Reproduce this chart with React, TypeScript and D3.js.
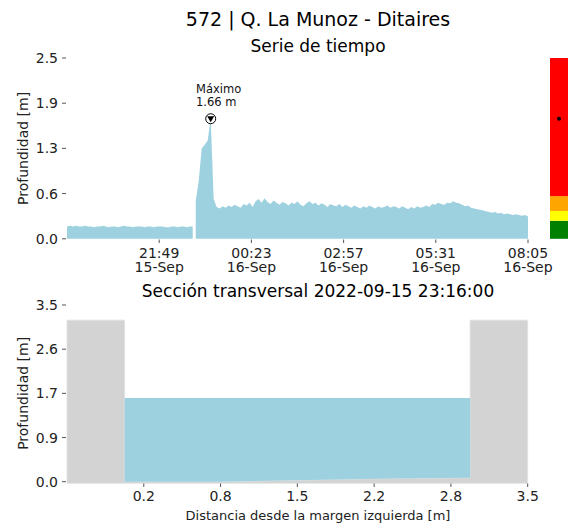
import React from 'react';
import * as d3 from 'd3';

const TITLE = '572 | Q. La Munoz - Ditaires';
const TOP_SUBTITLE = 'Serie de tiempo';
const BOTTOM_SUBTITLE = 'Sección transversal 2022-09-15 23:16:00';
const Y_LABEL = 'Profundidad [m]';
const X_LABEL_SECTION = 'Distancia desde la margen izquierda [m]';

const START = new Date(2022, 8, 15, 19, 15);
const END = new Date(2022, 8, 16, 8, 5);
const STEP_MIN = 5;
const GAP_INDEX = 43;

const depthSeries: number[] = [
  0.17, 0.18, 0.17, 0.18, 0.17, 0.17, 0.18, 0.17, 0.17, 0.16,
  0.17, 0.17, 0.18, 0.17, 0.16, 0.17, 0.17, 0.16, 0.17, 0.18,
  0.17, 0.17, 0.16, 0.17, 0.17, 0.17, 0.16, 0.17, 0.17, 0.16,
  0.17, 0.17, 0.17, 0.16, 0.16, 0.17, 0.17, 0.16, 0.17, 0.17,
  0.16, 0.17, 0.17,
  0.52, 0.80, 1.25, 1.30, 1.36, 1.66,
  0.55, 0.44, 0.42, 0.45, 0.43, 0.46, 0.44, 0.47, 0.45, 0.43, 0.48,
  0.46, 0.50, 0.44, 0.52, 0.55, 0.50, 0.56, 0.51, 0.48, 0.53,
  0.50, 0.47, 0.51, 0.49, 0.46, 0.50, 0.48, 0.52, 0.47, 0.45,
  0.49, 0.52, 0.48, 0.50, 0.46, 0.49, 0.47, 0.44, 0.48, 0.46,
  0.45, 0.48, 0.44, 0.47, 0.45, 0.43, 0.46, 0.44, 0.42, 0.45,
  0.43, 0.46, 0.44, 0.42, 0.45, 0.43, 0.44, 0.46, 0.43, 0.45,
  0.44, 0.42, 0.45, 0.43, 0.41, 0.44, 0.42, 0.45, 0.43, 0.44,
  0.46, 0.44, 0.48, 0.47, 0.50, 0.48, 0.47, 0.50, 0.49, 0.52,
  0.50, 0.49, 0.47, 0.45, 0.46, 0.43, 0.42, 0.41, 0.40, 0.39,
  0.38, 0.37, 0.36, 0.37, 0.35, 0.36, 0.34, 0.35, 0.34, 0.33,
  0.34, 0.33, 0.32, 0.33, 0.31,
];

const MAX_VALUE = 1.66;
const MAX_LABEL = ['Máximo', '1.66 m'];

const timeTickLabels: [string, string][] = [
  ['21:49', '15-Sep'],
  ['00:23', '16-Sep'],
  ['02:57', '16-Sep'],
  ['05:31', '16-Sep'],
  ['08:05', '16-Sep'],
];
const depthTickLabels = ['0.0', '0.6', '1.3', '1.9', '2.5'];
const DEPTH_MAX = 2.5;

const bandLimits = [0, 0.25, 0.385, 0.59, 2.5];
const bandColors = ['#008000', '#ffff00', '#ffa500', '#ff0000'];

const sectionX = [-0.5, 0, 0, 0.8, 1.5, 2.2, 3.0, 3.0, 3.5];
const sectionZ = [3.2, 3.2, 0, 0, 0.03, 0.06, 0.08, 3.2, 3.2];
const WATER_LEVEL = 1.66;
const sectionXTickLabels = ['0.2', '0.8', '1.5', '2.2', '2.8', '3.5'];
const sectionYTickLabels = ['0.0', '0.9', '1.7', '2.6', '3.5'];
const SECTION_X_MIN = -0.5;
const SECTION_X_MAX = 3.5;
const SECTION_Y_MAX = 3.5;

const FONT = 'DejaVu Sans, sans-serif';
const WATER = '#9ed1e0';
const GROUND = '#d3d3d3';
const TICK = '#555';

export default function App() {
  const W = 568, H = 527;
  const left = 67, right = 528;

  // ---------- Top: time series ----------
  const xT = d3.scaleTime().domain([START, END]).range([left, right]);
  const yT = d3.scaleLinear().domain([0, DEPTH_MAX]).range([238.8, 58]);
  const pts = depthSeries.map((v, i) => ({ t: new Date(START.getTime() + i * STEP_MIN * 60000), v }));
  const segs = [pts.slice(0, GAP_INDEX), pts.slice(GAP_INDEX)];
  const area = d3.area<{ t: Date; v: number }>()
    .x(d => xT(d.t))
    .y0(yT(0))
    .y1(d => yT(d.v));
  const maxPt = pts.reduce((a, b) => (b.v > a.v ? b : a));
  const timeTicks = d3.range(1, 6).map(k => new Date(START.getTime() + (k * (END.getTime() - START.getTime())) / 5));
  const depthTicks = d3.range(0, 5).map(k => (k * DEPTH_MAX) / 4);

  // ---------- Bottom: cross section ----------
  const xS = d3.scaleLinear().domain([SECTION_X_MIN, SECTION_X_MAX]).range([67, 527.7]);
  const yS = d3.scaleLinear().domain([0, SECTION_Y_MAX]).range([481.7, 305]);
  const ground = sectionX.map((x, i) => ({ x, z: sectionZ[i] }));
  const groundArea = d3.area<{ x: number; z: number }>()
    .x(d => xS(d.x))
    .y0(483.3)
    .y1(d => yS(d.z));
  const bed = ground.slice(2, 7);
  const waterArea = d3.area<{ x: number; z: number }>()
    .x(d => xS(d.x))
    .y0(d => yS(d.z))
    .y1(yS(WATER_LEVEL));
  const sxTicks = d3.range(1, 7).map(k => SECTION_X_MIN + (k * (SECTION_X_MAX - SECTION_X_MIN)) / 6);
  const syTicks = d3.range(0, 5).map(k => (k * SECTION_Y_MAX) / 4);

  const mx = xT(maxPt.t), my = yT(MAX_VALUE);

  return (
    <svg width={W} height={H} style={{ position: 'absolute', left: 0, top: 0, background: '#fff' }} fontFamily={FONT}>
      <text x={318} y={26} fontSize={19} textAnchor="middle" fill="#000">{TITLE}</text>
      <text x={318} y={52} fontSize={17} textAnchor="middle" fill="#000">{TOP_SUBTITLE}</text>

      {segs.map((s, i) => (
        <path key={i} d={area(s) || ''} fill={WATER} />
      ))}

      {/* y axis top */}
      {depthTicks.map((v, i) => (
        <g key={i}>
          <line x1={62} x2={66} y1={yT(v)} y2={yT(v)} stroke={TICK} />
          <text x={58} y={yT(v) + 5} fontSize={14} textAnchor="end" fill="#222">{depthTickLabels[i]}</text>
        </g>
      ))}
      <text transform={`translate(28,${(yT(0) + yT(DEPTH_MAX)) / 2}) rotate(-90)`} fontSize={14} textAnchor="middle" fill="#222">{Y_LABEL}</text>

      {/* x axis top */}
      {timeTicks.map((t, i) => (
        <g key={i}>
          <line x1={xT(t)} x2={xT(t)} y1={239.5} y2={243} stroke={TICK} />
          <text x={xT(t)} y={257.5} fontSize={14} textAnchor="middle" fill="#222">{timeTickLabels[i][0]}</text>
          <text x={xT(t)} y={272} fontSize={14} textAnchor="middle" fill="#222">{timeTickLabels[i][1]}</text>
        </g>
      ))}

      {/* max annotation */}
      <circle cx={mx} cy={my} r={5} fill="#fff" stroke="#000" strokeWidth={1} />
      <path d={`M${mx - 3.5},${my - 2.5} L${mx + 3.5},${my - 2.5} L${mx},${my + 3.5} Z`} fill="#000" />
      <text x={196} y={93} fontSize={11.5} fill="#111">{MAX_LABEL[0]}</text>
      <text x={196} y={106} fontSize={11.5} fill="#111">{MAX_LABEL[1]}</text>

      {/* level colour bar */}
      {bandColors.map((c, i) => (
        <rect key={i} x={550} width={18} y={yT(bandLimits[i + 1])} height={yT(bandLimits[i]) - yT(bandLimits[i + 1])} fill={c} />
      ))}
      <circle cx={559} cy={yT(MAX_VALUE)} r={2} fill="#000" />

      {/* bottom */}
      <text x={318} y={297} fontSize={17} textAnchor="middle" fill="#000">{BOTTOM_SUBTITLE}</text>
      <path d={groundArea(ground) || ''} fill={GROUND} stroke="#dde2e4" strokeWidth={0.8} />
      <path d={waterArea(bed) || ''} fill={WATER} />

      {syTicks.map((v, i) => (
        <g key={i}>
          <line x1={62} x2={66} y1={yS(v)} y2={yS(v)} stroke={TICK} />
          <text x={58} y={yS(v) + 5} fontSize={14} textAnchor="end" fill="#222">{sectionYTickLabels[i]}</text>
        </g>
      ))}
      <text transform={`translate(28,${(yS(0) + yS(SECTION_Y_MAX)) / 2}) rotate(-90)`} fontSize={14} textAnchor="middle" fill="#222">{Y_LABEL}</text>

      {sxTicks.map((v, i) => (
        <g key={i}>
          <line x1={xS(v)} x2={xS(v)} y1={483.5} y2={487} stroke={TICK} />
          <text x={xS(v)} y={501} fontSize={14} textAnchor="middle" fill="#222">{sectionXTickLabels[i]}</text>
        </g>
      ))}
      <text x={318} y={520} fontSize={13} textAnchor="middle" fill="#222">{X_LABEL_SECTION}</text>
    </svg>
  );
}
